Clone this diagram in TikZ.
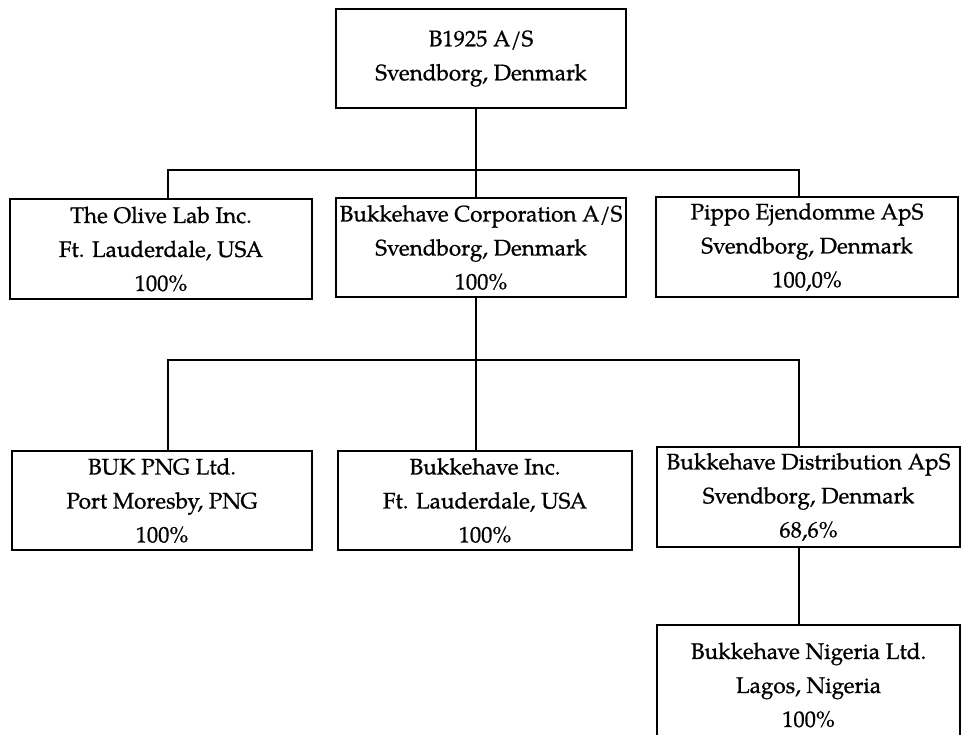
\documentclass[tikz,border=0pt]{standalone}
\usepackage{fontspec}
\setmainfont{TeX Gyre Pagella}
\newfontface\boxfont{TeX Gyre Pagella}[FakeBold=0.8]
\begin{document}
\begin{tikzpicture}[x=1pt,y=-1pt,
  box/.style={draw, line width=2.2pt, inner sep=0pt, align=center,
    font=\boxfont\fontsize{22.5}{34}\selectfont},
  link/.style={line width=2.2pt, line join=miter}]
\useasboundingbox (0,0) rectangle (961,734);
\clip (0,0) rectangle (961,734);
\node[box, minimum width=290pt, minimum height=99pt] (top) at (481,58.5) {B1925 A/S\\Svendborg, Denmark};
\node[box, minimum width=302pt, minimum height=100pt] (r2a) at (161,249) {The Olive Lab Inc.\\Ft. Lauderdale, USA\\100\%};
\node[box, minimum width=290pt, minimum height=99pt] (r2b) at (481,247.5) {Bukkehave Corporation A/S\\Svendborg, Denmark\\100\%};
\node[box, minimum width=302pt, minimum height=100pt] (r2c) at (807,247) {Pippo Ejendomme ApS\\Svendborg, Denmark\\100,0\%};
\node[box, minimum width=300pt, minimum height=99pt] (r3a) at (162,500.5) {BUK PNG Ltd.\\Port Moresby, PNG\\100\%};
\node[box, minimum width=294pt, minimum height=99pt] (r3b) at (485,500.5) {Bukkehave Inc.\\Ft. Lauderdale, USA\\100\%};
\node[box, minimum width=303pt, minimum height=100pt] (r3c) at (808.5,497) {Bukkehave Distribution ApS\\Svendborg, Denmark\\68,6\%};
\node[box, minimum width=303pt, minimum height=120pt] (r4) at (808.5,685) {Bukkehave Nigeria Ltd.\\Lagos, Nigeria\\100\%};
\coordinate (j1) at (476,170);
\coordinate (b1L) at (168,170);
\coordinate (b1R) at (799,170);
\coordinate (j2) at (476,360);
\coordinate (b2L) at (168,360);
\coordinate (b2R) at (799,360);
\draw[link] (top.south -| j1) -- (j1);
\draw[link] (r2a.north -| b1L) -- (b1L) -- (b1R) -- (r2c.north -| b1R);
\draw[link] (j1) -- (r2b.north -| j1);
\draw[link] (r2b.south -| j2) -- (j2) -- (r3b.north -| j2);
\draw[link] (r3a.north -| b2L) -- (b2L) -- (b2R) -- (r3c.north -| b2R);
\draw[link] (r3c.south -| b2R) -- (r4.north -| b2R);
\end{tikzpicture}
\end{document}
